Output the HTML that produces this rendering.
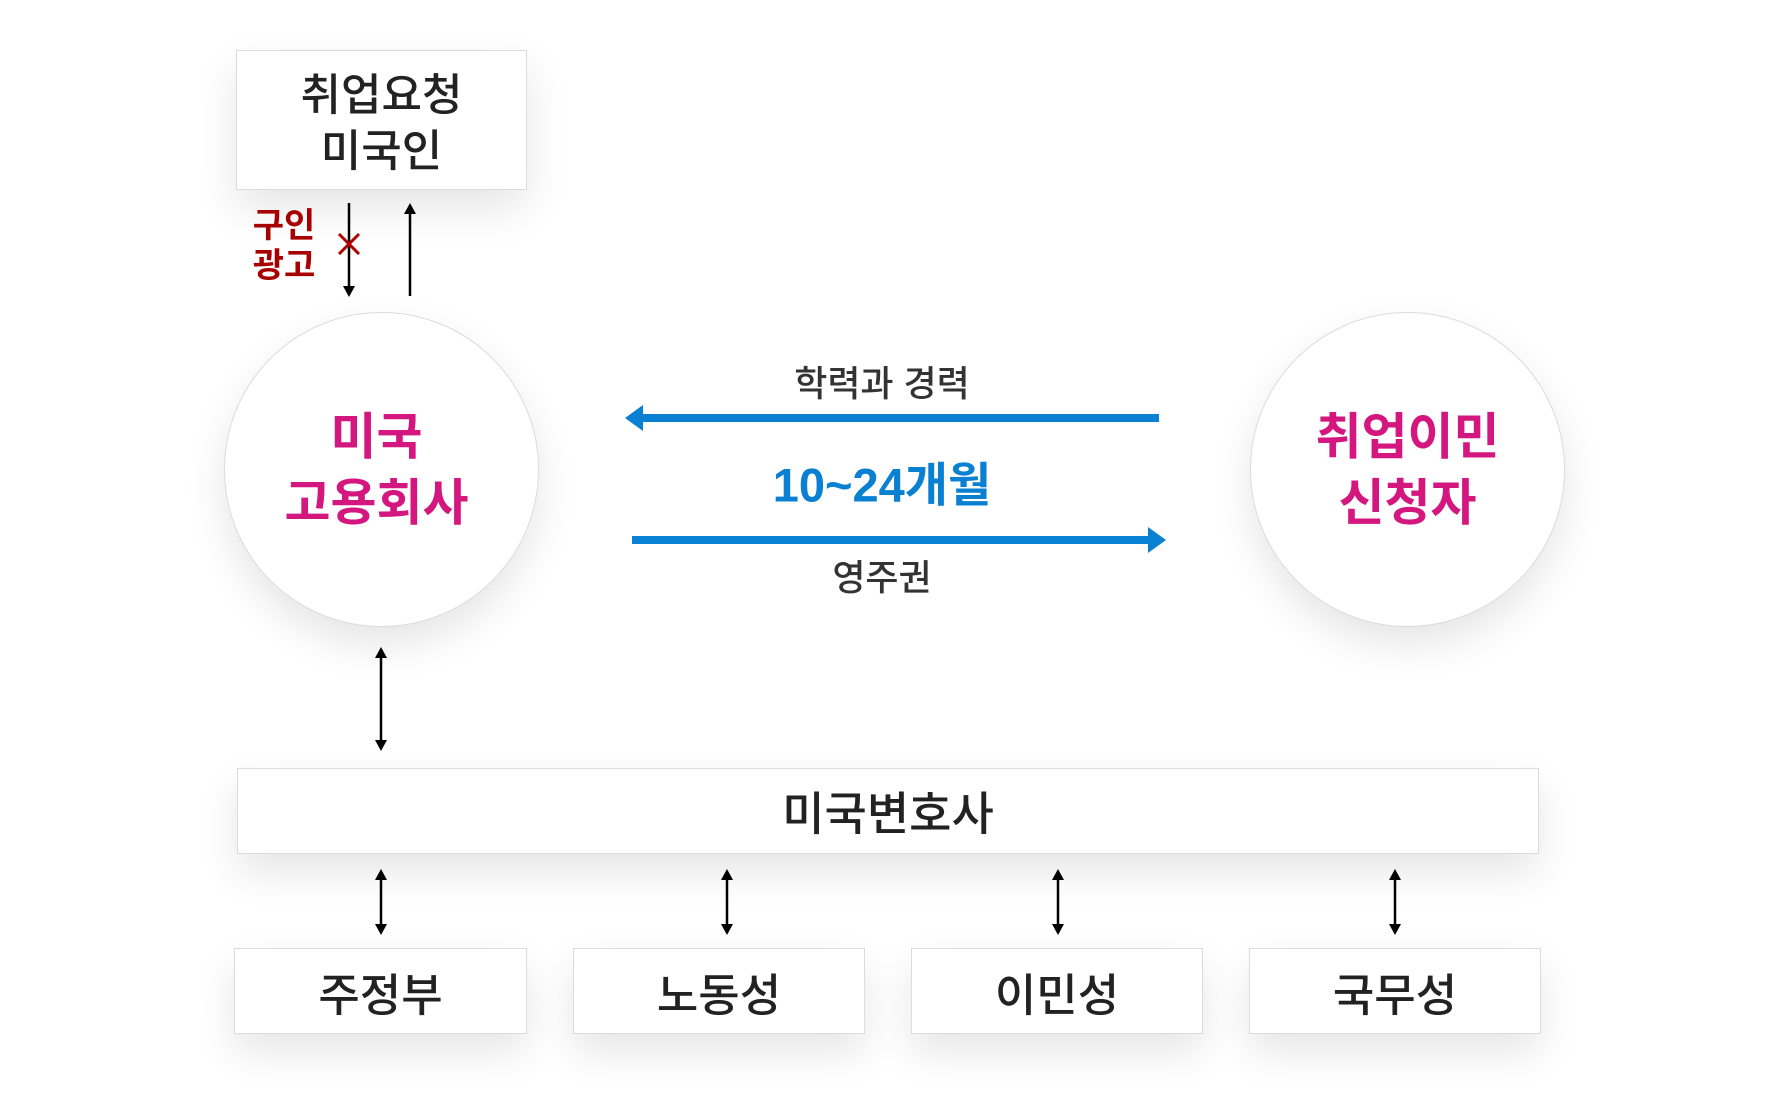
<!DOCTYPE html>
<html><head><meta charset="utf-8"><style>
html,body{margin:0;padding:0;background:#fff;}
body{width:1785px;height:1117px;position:relative;overflow:hidden;font-family:"Liberation Sans","Noto Sans CJK KR",sans-serif;}
.box{position:absolute;background:#fff;border:1px solid #dcdcdc;box-sizing:border-box;box-shadow:0 18px 40px rgba(0,0,0,0.10);display:flex;align-items:center;justify-content:center;text-align:center;color:#222;font-weight:500;}
.circ{position:absolute;background:#fff;border:1px solid #dcdcdc;border-radius:50%;box-sizing:border-box;box-shadow:0 18px 40px rgba(0,0,0,0.10);display:flex;align-items:center;justify-content:center;text-align:center;color:#d4167f;font-weight:700;font-size:50px;line-height:66px;}
.t{position:absolute;white-space:nowrap;transform:translate(-50%,-50%);}
svg{position:absolute;left:0;top:0;}
</style></head><body>
<div class="box" style="left:236px;top:50px;width:291px;height:140px;font-size:44px;line-height:56px;"><span style="position:relative;top:4px">취업요청<br>미국인</span></div>
<div class="circ" style="left:224px;top:312px;width:315px;height:315px;"><span style="margin-left:-10px">미국<br>고용회사</span></div>
<div class="circ" style="left:1250px;top:312px;width:315px;height:315px;">취업이민<br>신청자</div>
<div class="box" style="left:237px;top:768px;width:1302px;height:86px;font-size:46px;">미국변호사</div>
<div class="box" style="left:234px;top:948px;width:293px;height:86px;font-size:45px;">주정부</div>
<div class="box" style="left:573px;top:948px;width:292px;height:86px;font-size:45px;">노동성</div>
<div class="box" style="left:911px;top:948px;width:292px;height:86px;font-size:45px;">이민성</div>
<div class="box" style="left:1249px;top:948px;width:292px;height:86px;font-size:45px;">국무성</div>
<div class="t" style="left:284px;top:246px;color:#a80000;font-weight:700;font-size:34px;line-height:40px;text-align:center;">구인<br>광고</div>
<div class="t" style="left:882px;top:381px;color:#333;font-size:36px;font-weight:500;">학력과 경력</div>
<div class="t" style="left:882px;top:481px;color:#0a80d2;font-size:47px;font-weight:700;">10~24개월</div>
<div class="t" style="left:882px;top:575px;color:#333;font-size:36px;font-weight:500;">영주권</div>
<svg width="1785" height="1117">
<g stroke="#000" stroke-width="2.5" fill="none">
<line x1="349" y1="203" x2="349" y2="286"/>
<line x1="410" y1="214" x2="410" y2="296"/>
<line x1="381" y1="658" x2="381" y2="740"/>
<line x1="381" y1="880" x2="381" y2="924"/>
<line x1="727" y1="880" x2="727" y2="924"/>
<line x1="1058" y1="880" x2="1058" y2="924"/>
<line x1="1395" y1="880" x2="1395" y2="924"/>
</g>
<g fill="#000">
<polygon points="343,286 355,286 349,297"/>
<polygon points="404,214 416,214 410,203"/>
<polygon points="375,658 387,658 381,647"/><polygon points="375,740 387,740 381,751"/>
<polygon points="375,880 387,880 381,869"/><polygon points="375,924 387,924 381,935"/>
<polygon points="721,880 733,880 727,869"/><polygon points="721,924 733,924 727,935"/>
<polygon points="1052,880 1064,880 1058,869"/><polygon points="1052,924 1064,924 1058,935"/>
<polygon points="1389,880 1401,880 1395,869"/><polygon points="1389,924 1401,924 1395,935"/>
</g>
<g stroke="#b00000" stroke-width="3"><line x1="339" y1="234" x2="359" y2="254"/><line x1="359" y1="234" x2="339" y2="254"/></g>
<g fill="#0a80d2">
<rect x="640" y="414" width="519" height="8"/>
<polygon points="625,418 643,405 643,431"/>
<rect x="632" y="536" width="518" height="8"/>
<polygon points="1166,540 1148,527 1148,553"/>
</g>
</svg>
</body></html>
